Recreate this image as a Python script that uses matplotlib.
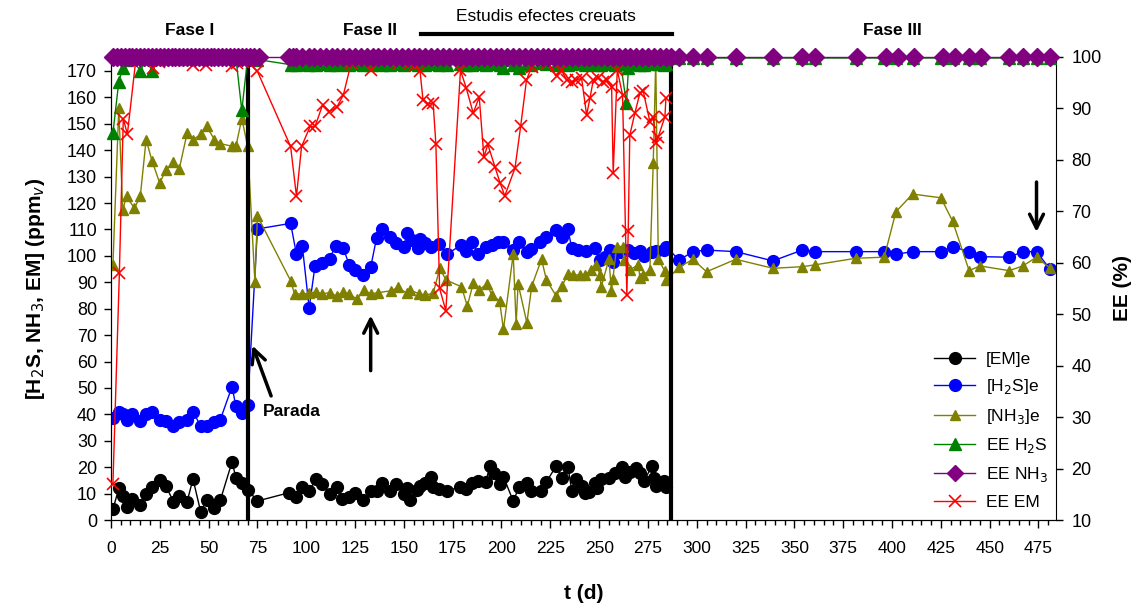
import matplotlib
matplotlib.use("Agg")
import matplotlib.pyplot as plt
from matplotlib.lines import Line2D
from matplotlib.ticker import MultipleLocator

plt.rcParams['font.family'] = ['Liberation Sans', 'DejaVu Sans']

# ---- concentration series (ppmv) ----
dies_em = [1, 4, 6, 8, 11, 15, 18, 21, 25, 28, 32, 35, 39, 42, 46, 49, 53, 56, 62, 64, 67, 70,
           75, 91, 95, 98, 101.5, 105, 108, 112, 116, 118.5, 122, 125, 129, 133, 136, 139, 143, 146,
           150, 151.5, 153, 156.5, 158.5, 161, 164, 165, 168, 172, 179, 182, 185, 188, 192, 194,
           196, 199, 201, 206, 209, 213, 215, 220, 223, 228, 231, 234, 236, 238, 241, 243, 245,
           248, 249, 251, 255, 258, 261.5, 263, 266, 269, 271, 273, 277, 278, 279, 283, 284]
em = [4, 12, 9, 5, 8, 5.5, 10, 12.5, 15, 13, 7, 9, 7, 15.5, 3, 7.5, 4.5, 7.5, 22, 16, 14, 11.5,
      7.2, 10.3, 8.8, 12.6, 11.1, 15.5, 13.6, 9.8, 12.4, 8, 8.8, 10.3, 7.6, 11, 10.9, 14.1, 11, 13.6,
      9.8, 12, 7.6, 11.4, 12.9, 14.1, 16.2, 12.4, 11.6, 11, 12.6, 11.7, 14.1, 14.9, 14.5, 20.4,
      17.7, 13.5, 16.4, 7.2, 12.4, 14.1, 11.1, 11.1, 14.5, 20.4, 15.8, 20.2, 11.1, 15.4, 12.9, 10.1, 10.7,
      13.9, 12, 15.4, 15.8, 17.7, 19.9, 16.4, 18.3, 19.8, 17.7, 14.8, 20.4, 15.8, 12.9, 14.8, 12.6]

dies_h2s = [1, 4, 6, 8, 11, 15, 18, 21, 25, 28, 32, 35, 39, 42, 46, 49, 53, 56, 62, 64, 67, 70,
            75, 92, 95, 98, 101.5, 104.5, 108, 112, 115, 119, 122, 125, 129, 133, 136, 139, 143, 146,
            150, 151.5, 154, 157, 158.5, 161, 164, 168, 172, 179.5, 182, 185, 188, 192, 195, 198,
            201, 206, 209, 213, 215, 219.5, 223, 228, 231, 234, 236, 239, 243.5, 248, 250.5, 253,
            255.5, 257, 260.5, 265, 268, 271, 273, 277, 279, 283, 284.5,
            291, 298, 305, 320, 339, 354, 360.5, 381.5, 396, 402, 410.5, 425, 431, 439.5, 445,
            460, 467, 474, 481]
h2s = [38.5, 41, 40, 38, 40, 37.5, 40, 41, 38, 37.5, 35.5, 37, 38, 41, 35.5, 35.5, 37, 38, 50.5, 43, 40.5, 43.5,
       110.2, 112.3, 100.6, 103.7, 80.2, 96.3, 97.2, 98.8, 103.9, 102.9, 96.6, 94.7, 92.8, 95.7, 106.7, 110.1, 107.3, 104.8,
       103.5, 108.8, 106, 102.9, 106.3, 104.8, 103.3, 104.5, 100.7, 104.1, 102, 105.4, 100.7, 103.5, 104.1, 105.4,
       105.4, 102.2, 105.4, 101.6, 102.5, 105.4, 107, 109.8, 107.3, 110.1, 102.9, 102.2, 102, 102.9, 98.4, 99.5,
       102.2, 97.8, 101.6, 102.2, 101.2, 102, 100, 101.6, 102, 102.2, 103.3,
       98.4, 101.6, 102.2, 101.6, 98.1, 102.2, 101.6, 101.6, 101.6, 100.6, 101.6, 101.6, 103.5, 101.6, 99.7,
       99.5, 101.6, 101.6, 94.9]

dies_nh3 = [1, 4, 6, 8, 12, 15, 18, 21, 25, 28, 32, 35, 39, 42, 46, 49, 53, 56, 62, 64, 67, 70,
            73.7, 75, 92, 94, 98, 101.5, 105, 108, 112, 115.5, 119, 122, 126, 129.5, 133, 137, 143.5, 147,
            151.5, 153, 158, 161, 165, 168.4, 171.5, 179.5, 182.5, 185.5, 188.5, 192.5, 195, 199, 201,
            206, 207.5, 208.5, 213, 215.5, 220.5, 223, 228, 231, 234, 236.5, 240, 243, 246, 248.5,
            250.5, 251, 255, 256.3, 257, 259, 262, 262.7, 265.7, 270, 271, 272.6, 276, 277.7, 279,
            280.3, 283.5, 284.5,
            291, 298, 305, 320, 339, 354, 360.5, 381.5, 396, 402, 410.5, 425, 431, 439.5, 445,
            460, 467, 474, 481]
nh3 = [96.5, 156, 117.5, 122.5, 118, 122.5, 144, 136, 127.5, 132.5, 135.5, 133, 146.5, 144, 146, 149, 144, 142.5, 141.5, 141.5, 152, 141.5,
       90.2, 115.1, 90.6, 85.6, 85.6, 85.8, 86.4, 85.6, 86.1, 84.8, 86.4, 85.6, 83.6, 87.1, 85.6, 86.1, 86.8, 88.1,
       85.8, 87.1, 85.6, 85.2, 85.8, 95.3, 90.9, 88.3, 81, 89.6, 87.1, 89.4, 85.2, 83, 72.2,
       100.7, 74.2, 89.4, 74.7, 88.6, 98.7, 90.9, 84.8, 88.6, 93.1, 92.8, 92.8, 92.8, 94.7, 96.6,
       92.8, 88.1, 98.7, 86.8, 91.1, 103.5, 103.5, 98.4, 94.7, 96.6, 91.5, 92.8, 94.7, 135, 174,
       98.7, 94.4, 90.9,
       95.7, 98.7, 94, 98.7, 95.3, 95.9, 96.6, 99.1, 99.5, 116.7, 123.4, 122, 113.2, 94.4, 96.2,
       94.4, 96.2, 99.5, 95.3]

# ---- elimination efficiencies (%) ----
dies_ee_h2s = [1, 4, 6, 8, 11, 15, 18, 21, 25, 28, 32, 35, 39, 42, 46, 49, 53, 56, 62, 64, 67, 70,
               75, 92, 95, 98, 101.5, 105, 108, 112, 116, 119, 122, 125, 129, 133, 136, 139, 143, 146,
               150, 153, 157, 161, 165, 168, 172, 179, 182, 185, 188, 192, 195, 199, 201, 206, 209,
               213, 215, 220, 223, 228, 231, 234, 236, 239, 243, 246, 249, 251, 255, 258, 261, 264,
               265, 268, 271, 273, 277, 279, 280, 283, 284.5,
               291, 298, 305, 320, 339, 354, 360.5, 381.5, 396, 402, 410.5, 425, 431, 439.5, 445,
               460, 467, 474, 481]
ee_h2s = [85.2, 95.2, 97.8, 99.5, 99.8, 97.2, 99.8, 97.2, 99.8, 99.8, 99.8, 99.8, 99.8, 99.8, 99.8, 99.8, 99.8, 99.8, 99.8, 99.8, 89.6, 99.8,
          99.5, 98.5, 98.4, 98.6, 98.5, 98.4, 98.6, 98.5, 98.4, 98.6, 98.5, 98.6, 98.4, 98.5, 98.6, 98.5, 98.4, 98.6,
          98.5, 98.6, 98.4, 98.5, 98.6, 98.5, 98.4, 98.6, 98.5, 98.4, 98.6, 98.5, 98.6, 98.4, 97.9, 98.5, 97.9,
          98.6, 98.5, 98.8, 98.6, 98.5, 98.6, 98.4, 98.6, 98.8, 98.5, 98.6, 98.4, 98.5, 98.6, 98.5, 98.7, 91,
          97.8, 98.6, 98.5, 98.4, 98.6, 100, 98.6, 98.5, 98.6,
          99.8, 99.8, 99.8, 99.8, 99.8, 99.8, 99.8, 99.8, 99.8, 99.8, 99.8, 99.8, 99.8, 99.8, 99.8,
          99.8, 99.8, 99.8, 99.8]

dies_ee_nh3 = [1, 3, 5, 7, 9, 11, 13, 15, 17, 19, 21, 23, 25, 27, 29, 31, 33, 35, 37, 39, 41, 43,
               45, 47, 49, 51, 53, 55, 57, 59, 61, 63, 65, 67, 69, 71, 73, 76,
               91, 93, 95, 98, 101.5, 104, 107, 110, 113, 116, 119, 122, 125, 128, 131, 134, 137, 140,
               143, 146, 149, 152, 155, 158, 161, 164, 167, 170, 173, 176, 179, 182, 185, 188, 191,
               194, 197, 200, 203, 206, 209, 212, 215, 218, 221, 224, 227, 230, 233, 236, 239, 242,
               245, 248, 251, 254, 257, 260, 263, 266, 269, 272, 275, 278, 281, 284, 287,
               291, 298, 305, 320, 339, 354, 360.5, 382, 397, 403, 411, 426, 432, 439.5, 445.5,
               460, 467, 474.5, 481]
ee_nh3 = [100, 100, 100, 100, 100, 100, 100, 100, 100, 100, 100, 100, 100, 100, 100, 100, 100, 100, 100, 100, 100, 100,
          100, 100, 100, 100, 100, 100, 100, 100, 100, 100, 100, 100, 100, 100, 100, 100,
          100, 100, 100, 100, 100, 100, 100, 100, 100, 100, 100, 100, 100, 100, 100, 100, 100, 100,
          100, 100, 100, 100, 100, 100, 100, 100, 100, 100, 100, 100, 100, 100, 100, 100, 100,
          100, 100, 100, 100, 100, 100, 100, 100, 100, 100, 100, 100, 100, 100, 100, 100, 100,
          100, 100, 100, 100, 100, 100, 100, 100, 100, 100, 100, 100, 100, 100, 100,
          100, 100, 100, 100, 100, 100, 100, 100, 100, 100, 100, 100, 100, 100, 100,
          100, 100, 100, 100]

dies_ee_em = [1, 4.3, 6.3, 8.4, 12.8, 14.8, 18.3, 21.3, 24.7, 28.5, 31.9, 35.3, 39, 42, 45.6, 48.6, 52.4, 55, 62, 64.3, 67.4, 69.5,
              75, 92, 95, 97.6, 102, 104.5, 108.4, 111.8, 115.6, 119, 123, 129.5, 133, 137, 140, 143.7, 147.6,
              150.5, 153, 155.7, 158.3, 159.8, 162.5, 165, 166.4, 168.3, 171.5, 179, 182, 185.5, 188.6, 191,
              193, 196.6, 199.2, 201.7, 206.9, 209.8, 212.8, 215.4, 221, 223.1, 228.2, 230.7, 233.3, 235.9,
              238.4, 241, 243.6, 245.3, 247, 249.6, 251.8, 253.8, 256.4, 257.2, 259.3, 262, 264.2, 264.9,
              265.7, 268.3, 270.9, 272.6, 276, 277.7, 279.1, 280.3, 283.7, 284.2]
ee_em = [17, 58, 88, 85, 99.7, 99.4, 99.6, 97.8, 99.1, 99.7, 99.4, 99.7, 99.4, 98.5, 99.4, 98.5, 99.4, 99.7, 98.2, 98.9, 99.1, 99.4,
         97.2, 82.6, 72.9, 82.6, 86.5, 86.5, 90.7, 89.4, 90.2, 92.6, 98.8, 99.6, 97.4, 99.7, 99.6, 99.7, 98.8,
         99.7, 98.8, 98.5, 97.2, 91.6, 90.9, 91, 83, 55, 50.7, 97.4, 93.9, 89.1, 92.2, 80.5,
         83, 78.7, 75.6, 73, 78.4, 86.5, 95.5, 98.1, 99.7, 98.8, 96.3, 97.5, 95.5, 95.2,
         95.5, 95.9, 88.7, 92, 95.5, 95.9, 95.2, 95.5, 94.1, 77.4, 97.5, 92.6, 53.7, 66.2,
         84.8, 89.1, 93, 93.3, 87.4, 88.4, 83.2, 84.5, 88.4, 92]

fases = ["Fase I", "Fase II", "Fase III"]
fase_centre = [40.5, 132.5, 400]
limits_fase = [70, 287]
etiquetes = ["[EM]e", "[H$_2$S]e", "[NH$_3$]e", "EE H$_2$S", "EE NH$_3$", "EE EM"]

# ---- figure ----
fig = plt.figure(figsize=(11.37, 6.08), dpi=100)
ax = fig.add_axes([0.0976, 0.1447, 0.8312, 0.7616])
ax2 = ax.twinx()

C_EM, C_H2S, C_NH3 = "black", "#0000FF", "#808000"
C_EEH2S, C_EENH3, C_EEEM = "#008000", "#800080", "#FF0000"

ax.plot(dies_em, em, color=C_EM, marker="o", ms=8.5, lw=1, zorder=3)
ax.plot(dies_h2s, h2s, color=C_H2S, marker="o", ms=8.5, lw=1, zorder=3)
ax.plot(dies_nh3, nh3, color=C_NH3, marker="^", ms=7.5, lw=1, zorder=3)

for d in limits_fase:
    ax.axvline(d, color="black", lw=3, zorder=4)

ax2.plot(dies_ee_h2s, ee_h2s, color=C_EEH2S, marker="^", ms=8.5, lw=1, clip_on=False, zorder=3)
ax2.plot(dies_ee_em, ee_em, color=C_EEEM, marker="x", ms=8, mew=1.2, lw=1, clip_on=False, zorder=4)
ax2.plot(dies_ee_nh3, ee_nh3, color=C_EENH3, marker="D", ms=9, lw=1, clip_on=False, zorder=5)

ax.set_xlim(0, 484)
ax.set_ylim(0, 175.3)
ax2.set_ylim(10, 100)

ax.xaxis.set_major_locator(MultipleLocator(25))
ax.xaxis.set_minor_locator(MultipleLocator(5))
ax2.yaxis.set_major_locator(MultipleLocator(10))
ax.set_yticks(range(0, 171, 10))

ax.tick_params(axis="x", which="major", direction="out", length=6, width=1, labelsize=12.5, pad=9)
ax.tick_params(axis="x", which="minor", direction="out", length=3.5, width=1)
ax.tick_params(axis="y", direction="out", length=5, width=1, labelsize=13, pad=5)
ax2.tick_params(axis="y", direction="out", length=5, width=1, labelsize=13, pad=6)

for a in (ax, ax2):
    a.spines["top"].set_visible(False)
ax.spines["right"].set_visible(False)

ax.set_xlabel("t (d)", fontsize=15, fontweight="bold", labelpad=20)
ax.set_ylabel("[H$_2$S, NH$_3$, EM] (ppm$_v$)", fontsize=15, fontweight="bold", labelpad=14)
ax2.set_ylabel("EE (%)", fontsize=15, fontweight="bold", labelpad=8)

# phase headers above the plot
trans = ax.get_xaxis_transform()
for nom, xc in zip(fases, fase_centre):
    ax.text(xc, 1.058, nom, transform=trans, ha="center", va="center",
            fontsize=12.5, fontweight="bold", clip_on=False)
ax.text(223, 1.087, "Estudis efectes creuats", transform=trans, ha="center", va="center",
        fontsize=12.5, clip_on=False)
ax.plot([159, 287.5], [1.05, 1.05], transform=trans, color="black", lw=3, clip_on=False)

# arrows
arrow = dict(arrowstyle="->", lw=2.5, color="black", mutation_scale=25)
ax.annotate("", xy=(72, 67), xytext=(82.5, 46), arrowprops=arrow)
ax.text(78, 41, "Parada", fontsize=12.5, fontweight="bold", va="center", ha="left")
ax.annotate("", xy=(133, 78.5), xytext=(133, 55.5), arrowprops=arrow)
ax.annotate("", xy=(474, 108), xytext=(474, 129), arrowprops=arrow)

# legend
handles = [
    Line2D([], [], color=C_EM, marker="o", ms=8.5, lw=1),
    Line2D([], [], color=C_H2S, marker="o", ms=8.5, lw=1),
    Line2D([], [], color=C_NH3, marker="^", ms=7.5, lw=1),
    Line2D([], [], color=C_EEH2S, marker="^", ms=8.5, lw=1),
    Line2D([], [], color=C_EENH3, marker="D", ms=8, lw=1),
    Line2D([], [], color=C_EEEM, marker="x", ms=8, mew=1.2, lw=1),
]
fig.legend(handles, etiquetes, loc="upper left", bbox_to_anchor=(925 / 1137, 1 - 343 / 608),
           frameon=False, fontsize=12.5, handlelength=2.4, handletextpad=0.6,
           labelspacing=0.6, borderpad=0)

fig.savefig("out.png", dpi=100)
